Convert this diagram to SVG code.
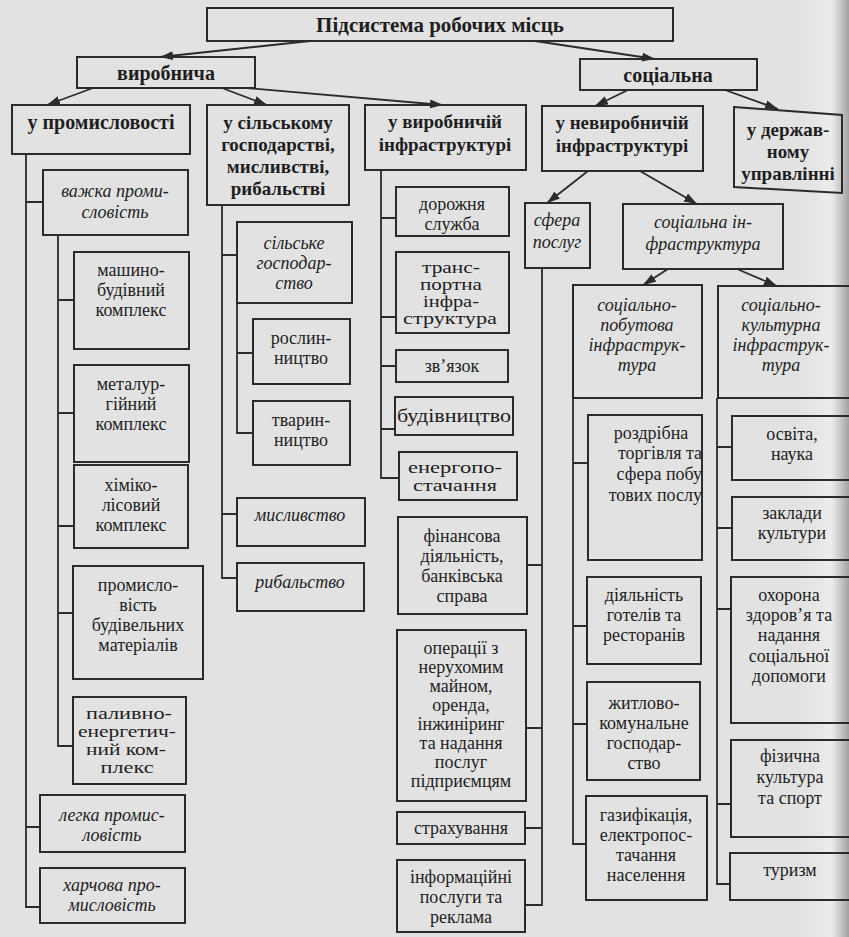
<svg xmlns="http://www.w3.org/2000/svg" width="849" height="937" viewBox="0 0 849 937">
<defs>
<marker id="ah" markerUnits="userSpaceOnUse" markerWidth="14" markerHeight="10" refX="13" refY="4.5" orient="auto">
<path d="M0,0 L13,4.5 L0,9 z" fill="#2b2b2b"/>
</marker>
<linearGradient id="edge" x1="0" y1="0" x2="1" y2="0">
<stop offset="0" stop-color="#e2e2e2" stop-opacity="0"/>
<stop offset="0.7" stop-color="#efefef" stop-opacity="0.8"/>
<stop offset="1" stop-color="#9a9a9a" stop-opacity="0.9"/>
</linearGradient>
</defs>
<style>
.b{fill:none;stroke:#2b2b2b;stroke-width:2}
.c{fill:none;stroke:#2b2b2b;stroke-width:1.8}
text{font-family:"Liberation Serif","DejaVu Serif","Times New Roman",serif;font-size:18px;fill:#1e1e1e;text-anchor:middle}
.h{font-weight:bold;font-size:19px}
.i{font-style:italic}
.s{font-size:16px}
.m{font-size:16.5px}
.e{text-anchor:end}
</style>
<rect x="0" y="0" width="849" height="937" fill="#e2e2e2"/>
<rect x="790" y="0" width="59" height="937" fill="url(#edge)"/>

<g id="connectors">
<line class="c" x1="310" y1="41" x2="160" y2="57" marker-end="url(#ah)"/>
<line class="c" x1="535" y1="41" x2="655" y2="59" marker-end="url(#ah)"/>
<line class="c" x1="93" y1="88" x2="47" y2="105" marker-end="url(#ah)"/>
<line class="c" x1="222" y1="88" x2="267" y2="105" marker-end="url(#ah)"/>
<line class="c" x1="247" y1="88" x2="443" y2="105" marker-end="url(#ah)"/>
<line class="c" x1="628" y1="90" x2="595" y2="106" marker-end="url(#ah)"/>
<line class="c" x1="725" y1="90" x2="778" y2="109" marker-end="url(#ah)"/>
<line class="c" x1="588" y1="171" x2="547" y2="203" marker-end="url(#ah)"/>
<line class="c" x1="640" y1="171" x2="697" y2="204" marker-end="url(#ah)"/>
<line class="c" x1="668" y1="269" x2="643" y2="285" marker-end="url(#ah)"/>
<line class="c" x1="737" y1="269" x2="777" y2="286" marker-end="url(#ah)"/>
<path class="c" d="M26,154 V907 H40 M26,202 H43 M26,827 H40"/>
<path class="c" d="M58,235 V746 H73 M58,300 H74 M58,413 H74 M58,526 H74 M58,613 H73"/>
<path class="c" d="M222,205 V578 H237 M222,255 H237 M222,514 H237"/>
<path class="c" d="M237,303 V433 H253 M237,353 H253"/>
<path class="c" d="M381,170 V478 H399 M381,218 H396 M381,317 H396 M381,366 H396 M381,429 H395"/>
<path class="c" d="M542,268 V905 H525 M542,565 H527 M542,728 H526 M542,828 H525"/>
<path class="c" d="M573,398 V844 H586 M573,463 H588 M573,626 H587 M573,724 H587"/>
<path class="c" d="M717,398 V884 H730 M717,447 H732 M717,528 H732 M717,609 H731 M717,804 H731"/>
</g>

<g id="title"><rect class="b" x="207" y="8" width="466" height="33"/><text class="h" x="440" y="32" style="font-size:21px">Підсистема робочих місць</text></g>
<g id="vyrobnycha"><rect class="b" x="77" y="57" width="178" height="31"/><text class="h" x="166" y="80" style="font-size:20px">виробнича</text></g>
<g id="sotsialna"><rect class="b" x="580" y="59" width="177" height="31"/><text class="h" x="668" y="82" style="font-size:20px">соціальна</text></g>

<g id="promyslovist"><rect class="b" x="12" y="105" width="178" height="49"/><text class="h" x="101" y="129" style="font-size:20px">у промисловості</text></g>
<g id="silske"><rect class="b" x="207" y="105" width="142" height="100"/><text class="h" x="278" y="129">у сільському</text><text class="h" x="278" y="151">господарстві,</text><text class="h" x="278" y="173">мисливстві,</text><text class="h" x="278" y="195">рибальстві</text></g>
<g id="vyrob_infra"><rect class="b" x="365" y="105" width="161" height="65"/><text class="h" x="445" y="128">у виробничій</text><text class="h" x="445" y="151">інфраструктурі</text></g>
<g id="nevyrob_infra"><rect class="b" x="542" y="106" width="161" height="65"/><text class="h" x="622" y="129">у невиробничій</text><text class="h" x="622" y="152">інфраструктурі</text></g>
<g id="derzh"><polygon class="b" points="734,107 842,115 842,193 734,187"/><text class="h" x="788" y="136">у держав-</text><text class="h" x="788" y="158">ному</text><text class="h" x="788" y="180">управлінні</text></g>

<g id="sfera"><rect class="b" x="525" y="203" width="65" height="65"/><text class="i" x="557" y="226">сфера</text><text class="i" x="557" y="248">послуг</text></g>
<g id="sots_infra"><rect class="b" x="623" y="204" width="160" height="65"/><text class="i" x="703" y="228">соціальна ін-</text><text class="i" x="703" y="250">фраструктура</text></g>
<g id="pobutova"><rect class="b" x="573" y="285" width="129" height="113"/><text class="i" x="637" y="311">соціально-</text><text class="i" x="637" y="331">побутова</text><text class="i" x="637" y="351">інфраструк-</text><text class="i" x="637" y="371">тура</text></g>
<g id="kulturna"><rect class="b" x="718" y="286" width="140" height="112"/><text class="i" x="781" y="311">соціально-</text><text class="i" x="781" y="331">культурна</text><text class="i" x="781" y="351">інфраструк-</text><text class="i" x="781" y="371">тура</text></g>

<g id="vazhka"><rect class="b" x="43" y="170" width="145" height="65"/><text class="i" x="115" y="197">важка проми-</text><text class="i" x="115" y="218">словість</text></g>
<g id="mashyno"><rect class="b" x="74" y="252" width="115" height="97"/><text x="131" y="276">машино-</text><text x="131" y="296">будівний</text><text x="131" y="316">комплекс</text></g>
<g id="metal"><rect class="b" x="74" y="365" width="115" height="97"/><text x="131" y="390">металур-</text><text x="131" y="410">гійний</text><text x="131" y="430">комплекс</text></g>
<g id="khimiko"><rect class="b" x="74" y="465" width="114" height="83"/><text x="131" y="491">хіміко-</text><text x="131" y="511">лісовий</text><text x="131" y="531">комплекс</text></g>
<g id="budmat"><rect class="b" x="73" y="566" width="130" height="113"/><text x="138" y="591">промисло-</text><text x="138" y="611">вість</text><text x="138" y="631">будівельних</text><text x="138" y="651">матеріалів</text></g>
<g id="palyvno"><rect class="b" x="73" y="697" width="113" height="87"/><text class="s" x="129" y="719" textLength="86" lengthAdjust="spacingAndGlyphs">паливно-</text><text class="s" x="127" y="737" textLength="98" lengthAdjust="spacingAndGlyphs">енергетич-</text><text class="s" x="126" y="755" textLength="80" lengthAdjust="spacingAndGlyphs">ний ком-</text><text class="s" x="127" y="773" textLength="53" lengthAdjust="spacingAndGlyphs">плекс</text></g>
<g id="lehka"><rect class="b" x="40" y="795" width="145" height="57"/><text class="i" x="112" y="821">легка промис-</text><text class="i" x="112" y="841">ловість</text></g>
<g id="kharchova"><rect class="b" x="40" y="868" width="145" height="55"/><text class="i" x="112" y="891">харчова про-</text><text class="i" x="112" y="911">мисловість</text></g>

<g id="silske_hosp"><rect class="b" x="237" y="222" width="115" height="81"/><text class="i" x="294" y="249">сільське</text><text class="i" x="294" y="269">господар-</text><text class="i" x="294" y="289">ство</text></g>
<g id="roslyn"><rect class="b" x="253" y="319" width="97" height="65"/><text x="301" y="344">рослин-</text><text x="301" y="364">ництво</text></g>
<g id="tvaryn"><rect class="b" x="253" y="401" width="97" height="64"/><text x="301" y="426">тварин-</text><text x="301" y="446">ництво</text></g>
<g id="myslyvstvo"><rect class="b" x="237" y="498" width="128" height="48"/><text class="i" x="300" y="521">мисливство</text></g>
<g id="rybalstvo"><rect class="b" x="237" y="563" width="127" height="48"/><text class="i" x="300" y="588">рибальство</text></g>

<g id="dorozhnia"><rect class="b" x="396" y="187" width="113" height="49"/><text x="452" y="210">дорожня</text><text x="452" y="230">служба</text></g>
<g id="transport"><rect class="b" x="396" y="252" width="113" height="81"/><text class="s" x="451" y="273" textLength="58" lengthAdjust="spacingAndGlyphs">транс-</text><text class="s" x="451" y="290" textLength="62" lengthAdjust="spacingAndGlyphs">портна</text><text class="s" x="451" y="307" textLength="56" lengthAdjust="spacingAndGlyphs">інфра-</text><text class="s" x="450" y="324" textLength="94" lengthAdjust="spacingAndGlyphs">структура</text></g>
<g id="zviazok"><rect class="b" x="396" y="350" width="112" height="32"/><text x="452" y="372">зв’язок</text></g>
<g id="budivnytstvo"><rect class="b" x="395" y="397" width="118" height="38"/><text x="454" y="422" textLength="114" lengthAdjust="spacingAndGlyphs">будівництво</text></g>
<g id="enerho"><rect class="b" x="399" y="452" width="118" height="48"/><text class="m" x="455" y="473" textLength="94" lengthAdjust="spacingAndGlyphs">енергопо-</text><text class="m" x="455" y="491" textLength="84" lengthAdjust="spacingAndGlyphs">стачання</text></g>
<g id="finansova"><rect class="b" x="398" y="517" width="129" height="97"/><text x="462" y="542">фінансова</text><text x="462" y="562">діяльність,</text><text x="462" y="582">банківська</text><text x="462" y="602">справа</text></g>
<g id="operatsii"><rect class="b" x="397" y="630" width="129" height="171"/><text x="461" y="654">операції з</text><text x="461" y="673">нерухомим</text><text x="461" y="692">майном,</text><text x="461" y="711">оренда,</text><text x="461" y="730">інжиніринг</text><text x="461" y="749">та надання</text><text x="461" y="768">послуг</text><text x="461" y="787">підприємцям</text></g>
<g id="strakhuvannia"><rect class="b" x="397" y="812" width="128" height="32"/><text x="461" y="834">страхування</text></g>
<g id="informatsiini"><rect class="b" x="397" y="860" width="128" height="72"/><text x="461" y="883">інформаційні</text><text x="461" y="903">послуги та</text><text x="461" y="923">реклама</text></g>

<g id="rozdribna"><rect class="b" x="588" y="415" width="114" height="145"/><text x="651" y="439">роздрібна</text><text class="e" x="702" y="459">торгівля та</text><text class="e" x="702" y="480">сфера побу</text><text class="e" x="702" y="501">тових послу</text></g>
<g id="hoteli"><rect class="b" x="587" y="577" width="114" height="87"/><text x="644" y="601">діяльність</text><text x="644" y="621">готелів та</text><text x="644" y="641">ресторанів</text></g>
<g id="zhytlovo"><rect class="b" x="587" y="682" width="113" height="98"/><text x="644" y="709">житлово-</text><text x="644" y="729">комунальне</text><text x="644" y="749">господар-</text><text x="644" y="769">ство</text></g>
<g id="hazyf"><rect class="b" x="586" y="796" width="121" height="104"/><text x="646" y="821">газифікація,</text><text x="646" y="841">електропос-</text><text x="646" y="861">тачання</text><text x="646" y="881">населення</text></g>

<g id="osvita"><rect class="b" x="732" y="416" width="126" height="64"/><text x="792" y="440">освіта,</text><text x="792" y="460">наука</text></g>
<g id="zaklady"><rect class="b" x="732" y="497" width="126" height="63"/><text x="792" y="519">заклади</text><text x="792" y="539">культури</text></g>
<g id="okhorona"><rect class="b" x="731" y="577" width="127" height="146"/><text x="789" y="601">охорона</text><text x="789" y="621">здоров’я та</text><text x="789" y="641">надання</text><text x="789" y="662">соціальної</text><text x="789" y="682">допомоги</text></g>
<g id="fizychna"><rect class="b" x="731" y="740" width="127" height="97"/><text x="790" y="762">фізична</text><text x="790" y="783">культура</text><text x="790" y="804">та спорт</text></g>
<g id="turyzm"><rect class="b" x="730" y="853" width="128" height="47"/><text x="790" y="876">туризм</text></g>
</svg>
